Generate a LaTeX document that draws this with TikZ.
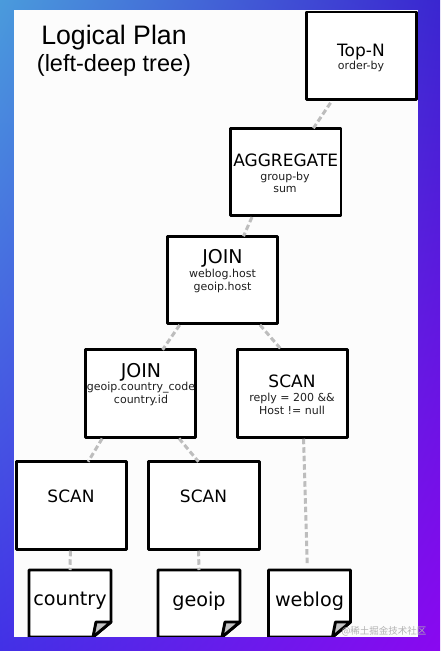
\documentclass[tikz,border=0pt]{standalone}
\usepackage{fontspec}
\setmainfont{DejaVu Sans}
\newfontfamily\titlefont{Liberation Sans}
\newfontfamily\cjkfont{Noto Sans CJK SC}
\usetikzlibrary{calc,shadings}
\definecolor{tl}{HTML}{4A9BDC}
\definecolor{tr}{HTML}{3A26D0}
\definecolor{bl}{HTML}{4230E6}
\definecolor{br}{HTML}{8A08F0}
\definecolor{conncol}{HTML}{BDBDBD}
\definecolor{foldcol}{HTML}{C4C4C4}
\tikzset{
  opbox/.style={draw=black,line width=2.9pt,line join=round,fill=white,minimum width=110.5pt,minimum height=87.5pt,inner sep=0pt,outer sep=0pt},
  notebox/.style={minimum width=82pt,minimum height=67pt,inner sep=0pt,outer sep=0pt,font=\fontsize{19.2}{22}\selectfont},
  notepath/.style={draw=black,line width=2.9pt,line join=round,fill=white},
  foldpath/.style={draw=black,line width=2.9pt,line join=round,fill=foldcol},
  conn/.style={draw=conncol,line width=3pt,dash pattern=on 5.5pt off 3pt},
  mainlbl/.style={inner sep=0pt,font=\fontsize{17}{20}\selectfont},
  joinlbl/.style={inner sep=0pt,font=\fontsize{19}{20}\selectfont},
  sublbl/.style={inner sep=0pt,align=center,text=black!88,font=\fontsize{11}{12.4}\selectfont},
  titlelbl/.style={inner sep=0pt,font=\titlefont},
}
\newcommand{\notedraw}[2]{%
  \draw[notepath] (#1.south west) -- (#1.north west) -- (#1.north east) -- ($(#1.north east)+(0,52)$) -- ($(#1.south east)+(-18,0)$) -- cycle;
  \draw[foldpath] ($(#1.north east)+(0,52)$) -- ($(#1.north east)+(-15,52)$) -- ($(#1.south east)+(-18,0)$) -- cycle;
  \node[notebox] (#1T) at (#1) {\raisebox{9pt}{#2}};
}
\begin{document}
\begin{tikzpicture}[x=1pt,y=-1pt]
\useasboundingbox (0,0) rectangle (440,651);
\shade[upper left=tl,upper right=tr,lower left=bl,lower right=br] (0,0) rectangle (440,651);
\fill[white!99!black] (14,10) rectangle (417.5,636.7);

\node[titlelbl,font=\titlefont\fontsize{26.7}{30}\selectfont] (title1) at (114,37.5) {Logical Plan};
\node[titlelbl,font=\titlefont\fontsize{23.5}{28}\selectfont] (title2) at (114,65.5) {(left-deep tree)};

\node[opbox] (topn) at (361.5,55.75) {};
\node[opbox] (agg) at (285.75,172) {};
\node[opbox] (joinA) at (222.5,280) {};
\node[opbox] (joinB) at (140.5,393.5) {};
\node[opbox] (scanR) at (292.5,393.5) {};
\node[opbox] (scanL) at (71.5,505.5) {};
\node[opbox] (scanM) at (204,505.5) {};

\begin{scope}
\clip (14,10) rectangle (417.5,636.7);
\node[notebox] (country) at (70,603.5) {};
\node[notebox] (geoip) at (199,603.5) {};
\node[notebox] (weblog) at (309.5,603.5) {};
\notedraw{country}{country}
\notedraw{geoip}{geoip}
\notedraw{weblog}{weblog}
\end{scope}

\draw[conn,shorten <=4pt] ($(topn.south west)!0.24!(topn.south east)$) -- ($(agg.north west)!0.75!(agg.north east)$);
\draw[conn,shorten <=1.5pt] ($(agg.south west)!0.2!(agg.south east)$) -- ($(joinA.north west)!0.69!(joinA.north east)$);
\draw[conn,shorten <=1.5pt] ($(joinA.south west)!0.12!(joinA.south east)$) -- ($(joinB.north west)!0.7!(joinB.north east)$);
\draw[conn,shorten <=1.5pt] ($(joinA.south west)!0.83!(joinA.south east)$) -- ($(scanR.north west)!0.4!(scanR.north east)$);
\draw[conn,shorten <=1.5pt] ($(joinB.south west)!0.16!(joinB.south east)$) -- ($(scanL.north west)!0.65!(scanL.north east)$);
\draw[conn,shorten <=1.5pt] ($(joinB.south west)!0.84!(joinB.south east)$) -- ($(scanM.north west)!0.45!(scanM.north east)$);
\draw[conn,shorten <=1.5pt,shorten >=6pt] ($(scanR.south west)!0.6!(scanR.south east)$) -- ($(weblog.north west)!0.475!(weblog.north east)$);
\draw[conn,shorten <=1.5pt] ($(scanL.south west)!0.49!(scanL.south east)$) -- ($(country.north west)!0.5!(country.north east)$);
\draw[conn,shorten <=1.5pt] ($(scanM.south west)!0.45!(scanM.south east)$) -- ($(geoip.north west)!0.5!(geoip.north east)$);

\node[mainlbl] (topnT) at (361,52.5) {Top-N};
\node[sublbl] (topnS) at (361,66.7) {order-by};
\node[mainlbl] (aggT) at (285.7,160) {AGGREGATE};
\node[sublbl] (aggS) at (285,182.2) {group-by\\sum};
\node[joinlbl] (joinAT) at (222.5,258) {JOIN};
\node[sublbl] (joinAS) at (222.5,280.8) {weblog.host\\geoip.host};
\node[joinlbl] (joinBT) at (141,372.5) {JOIN};
\node[sublbl] (joinBS) at (141,394) {geoip.country\_code\\country.id};
\node[mainlbl] (scanRT) at (292,381) {SCAN};
\node[sublbl] (scanRS) at (292,403.8) {reply = 200 \&\&\\Host != null};
\node[mainlbl] (scanLT) at (71,496) {SCAN};
\node[mainlbl] (scanMT) at (203.5,496) {SCAN};

\node[inner sep=0pt,text=black!30,font=\cjkfont\fontsize{9.5}{11}\selectfont] (mark) at (384,631) {@稀土掘金技术社区};
\end{tikzpicture}
\end{document}
